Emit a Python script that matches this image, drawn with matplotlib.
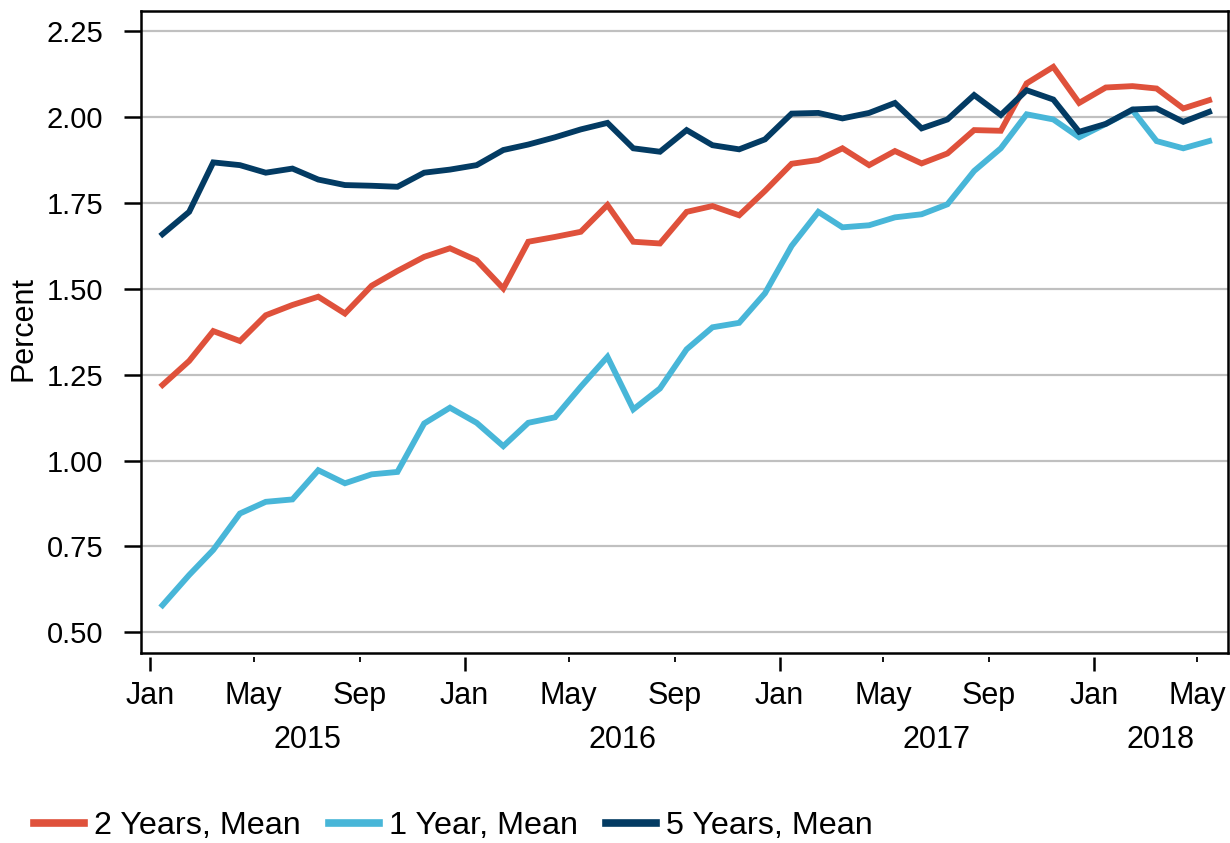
import matplotlib
matplotlib.use("Agg")
import matplotlib.pyplot as plt
import matplotlib.dates as mdates
import matplotlib.transforms as mtransforms
import numpy as np
import pandas as pd

plt.rcParams['font.family'] = ['Liberation Sans', 'DejaVu Sans']

dates = pd.date_range("2015-01-01", "2018-05-01", freq="MS") + pd.Timedelta(days=14)

two_year = [1.220, 1.290, 1.377, 1.348, 1.423, 1.453, 1.477, 1.428, 1.509, 1.552, 1.593, 1.618,
            1.583, 1.501, 1.637, 1.651, 1.666, 1.744, 1.637, 1.632, 1.724, 1.741, 1.714, 1.785,
            1.864, 1.875, 1.909, 1.860, 1.901, 1.865, 1.894, 1.962, 1.960, 2.098, 2.146, 2.041,
            2.086, 2.090, 2.083, 2.025, 2.049]
one_year = [0.579, 0.667, 0.740, 0.846, 0.880, 0.887, 0.972, 0.934, 0.960, 0.967, 1.108, 1.154,
            1.110, 1.042, 1.110, 1.126, 1.215, 1.302, 1.149, 1.210, 1.324, 1.388, 1.401, 1.487,
            1.625, 1.724, 1.679, 1.685, 1.708, 1.717, 1.746, 1.843, 1.909, 2.008, 1.993, 1.941,
            1.980, 2.020, 1.930, 1.909, 1.930]
five_year = [1.659, 1.724, 1.868, 1.860, 1.838, 1.850, 1.818, 1.802, 1.800, 1.797, 1.838, 1.847,
             1.860, 1.904, 1.920, 1.941, 1.964, 1.983, 1.909, 1.899, 1.962, 1.918, 1.906, 1.935,
             2.010, 2.012, 1.996, 2.012, 2.041, 1.967, 1.993, 2.064, 2.006, 2.078, 2.051, 1.957,
             1.980, 2.022, 2.025, 1.986, 2.015]

series_names = ["2 Years, Mean", "1 Year, Mean", "5 Years, Mean"]
colors = ["#DF513B", "#48B6D8", "#033B63"]
yticks = [0.50, 0.75, 1.00, 1.25, 1.50, 1.75, 2.00, 2.25]
years = [2015, 2016, 2017, 2018]

FS = 22

fig = plt.figure(figsize=(12.3, 8.43), dpi=100)
ax = fig.add_axes([0.1146, 0.2254, 0.8838, 0.7621])

for vals, c, n in zip([two_year, one_year, five_year], colors, series_names):
    ax.plot(dates, vals, color=c, lw=4.2, label=n, solid_joinstyle='miter', zorder=3)

xmin = pd.Timestamp("2014-12-21")
xmax = pd.Timestamp("2018-06-06")
ax.set_xlim(xmin, xmax)
ax.set_ylim(0.44, 2.31)
ax.set_yticks(yticks)
ax.set_yticklabels([f"{v:.2f}" for v in yticks])
ax.yaxis.grid(True, color="#c0c0c0", lw=1.6, zorder=0)
ax.set_axisbelow(True)
ax.tick_params(axis='y', direction='out', length=12, width=1.8, pad=15, labelsize=21)
for s in ax.spines.values():
    s.set_linewidth(1.8)

fig.text(24 / 1230, 1 - 328 / 843, "Percent", rotation=90, ha='center', va='center', fontsize=FS)

# hide main x ticks; use secondary axis offset downward
ax.tick_params(axis='x', which='both', bottom=False, labelbottom=False)
sec = ax.secondary_xaxis(-4 / 643)
sec.spines['bottom'].set_visible(False)
sec.xaxis.set_major_locator(mdates.MonthLocator(bymonth=[1]))
sec.xaxis.set_major_formatter(mdates.DateFormatter('%b'))
sec.xaxis.set_minor_locator(mdates.MonthLocator(bymonth=[5, 9]))
sec.xaxis.set_minor_formatter(mdates.DateFormatter('%b'))
sec.tick_params(axis='x', which='major', length=10, width=1.8, pad=7, labelsize=FS)
sec.tick_params(axis='x', which='minor', length=3.6, width=1.3, pad=13.4, labelsize=FS)

trans = mtransforms.blended_transform_factory(ax.transData, fig.transFigure)
for yr in years:
    a = max(pd.Timestamp(f"{yr}-01-01"), xmin)
    b = min(pd.Timestamp(f"{yr + 1}-01-01"), xmax)
    mid = a + (b - a) / 2
    ax.text(mdates.date2num(mid), 1 - 740 / 843, str(yr), transform=trans,
            ha='center', va='center', fontsize=FS)

handles, labels = ax.get_legend_handles_labels()
fig.legend(handles, labels, ncol=3, loc='center left', bbox_to_anchor=(0.017, 1 - 826 / 843),
           frameon=False, fontsize=23.3, handlelength=1.56, handletextpad=0.31,
           columnspacing=0.85, borderaxespad=0)
for lh in fig.legends[0].get_lines():
    lh.set_linewidth(5.5)

fig.savefig("out.png", dpi=100)
